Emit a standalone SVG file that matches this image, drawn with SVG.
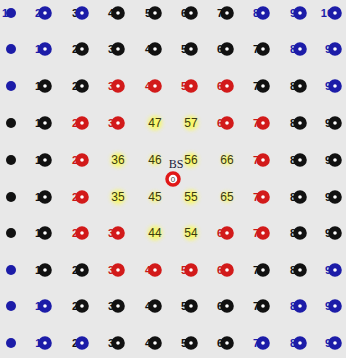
<svg xmlns="http://www.w3.org/2000/svg" width="346" height="358" viewBox="0 0 346 358">
<defs>
<style>
text{font-family:"Liberation Sans",Arial,sans-serif;font-size:11px;text-anchor:middle;font-weight:bold}
.tb{fill:#1c1ca8}.tk{fill:#111}.tr{fill:#c81818}
.rb{fill:#fff;stroke:#1c1ca8;stroke-width:5}
.rk{fill:#fff;stroke:#111;stroke-width:5}
.rr{fill:#fff;stroke:#d21a1a;stroke-width:5}
.db{fill:#1c1ca8}.dk{fill:#111}
.yh{fill:#ffff30;opacity:.7;filter:url(#bl)}
.yt{fill:#3a3a10;font-size:12px;font-weight:normal}
</style>
<filter id="bl" x="-50%" y="-50%" width="200%" height="200%"><feGaussianBlur stdDeviation="2"/></filter>
</defs>
<rect width="346" height="358" fill="#e8e8e8"/>
<g id="connectors"/>
<!-- row 1 -->
<g id="n10"><text class="tb" x="8" y="17">10</text><circle class="db" cx="11" cy="13" r="5"/></g>
<g id="n20"><text class="tb" x="41" y="17">20</text><circle class="rb" cx="45" cy="13" r="4.3"/></g>
<g id="n30"><text class="tk" x="78" y="17">30</text><circle class="rb" cx="82" cy="13" r="4.3"/></g>
<g id="n40"><text class="tk" x="114" y="17">40</text><circle class="rk" cx="118" cy="13" r="4.3"/></g>
<g id="n50"><text class="tk" x="151" y="17">50</text><circle class="rk" cx="155" cy="13" r="4.3"/></g>
<g id="n60"><text class="tk" x="187" y="17">60</text><circle class="rk" cx="191" cy="13" r="4.3"/></g>
<g id="n70"><text class="tk" x="223" y="17">70</text><circle class="rk" cx="227" cy="13" r="4.3"/></g>
<g id="n80"><text class="tb" x="259" y="17">80</text><circle class="rb" cx="263" cy="13" r="4.3"/></g>
<g id="n90"><text class="tb" x="296" y="17">90</text><circle class="rb" cx="300" cy="13" r="4.3"/></g>
<g id="n100"><text class="tb" x="330" y="17">100</text><circle class="rb" cx="335" cy="13" r="4.3"/></g>
<!-- row 2 -->
<g id="n9"><text class="tb" x="11" y="53">9</text><circle class="db" cx="11" cy="49" r="5"/></g>
<g id="n19"><text class="tb" x="41" y="53">19</text><circle class="rb" cx="45" cy="49" r="4.3"/></g>
<g id="n29"><text class="tk" x="78" y="53">29</text><circle class="rk" cx="82" cy="49" r="4.3"/></g>
<g id="n39"><text class="tk" x="114" y="53">39</text><circle class="rk" cx="118" cy="49" r="4.3"/></g>
<g id="n49"><text class="tk" x="151" y="53">49</text><circle class="rk" cx="155" cy="49" r="4.3"/></g>
<g id="n59"><text class="tk" x="187" y="53">59</text><circle class="rk" cx="191" cy="49" r="4.3"/></g>
<g id="n69"><text class="tk" x="223" y="53">69</text><circle class="rk" cx="227" cy="49" r="4.3"/></g>
<g id="n79"><text class="tk" x="259" y="53">79</text><circle class="rk" cx="263" cy="49" r="4.3"/></g>
<g id="n89"><text class="tb" x="296" y="53">89</text><circle class="rb" cx="300" cy="49" r="4.3"/></g>
<g id="n99"><text class="tb" x="331" y="53">99</text><circle class="rb" cx="335" cy="49" r="4.3"/></g>
<!-- row 3 -->
<g id="n8"><text class="tb" x="11" y="90">8</text><circle class="db" cx="11" cy="86" r="5"/></g>
<g id="n18"><text class="tk" x="41" y="90">18</text><circle class="rk" cx="45" cy="86" r="4.3"/></g>
<g id="n28"><text class="tk" x="78" y="90">28</text><circle class="rk" cx="82" cy="86" r="4.3"/></g>
<g id="n38"><text class="tr" x="114" y="90">38</text><circle class="rr" cx="118" cy="86" r="4.3"/></g>
<g id="n48"><text class="tr" x="151" y="90">48</text><circle class="rr" cx="155" cy="86" r="4.3"/></g>
<g id="n58"><text class="tr" x="187" y="90">58</text><circle class="rr" cx="191" cy="86" r="4.3"/></g>
<g id="n68"><text class="tr" x="223" y="90">68</text><circle class="rr" cx="227" cy="86" r="4.3"/></g>
<g id="n78"><text class="tk" x="259" y="90">78</text><circle class="rk" cx="263" cy="86" r="4.3"/></g>
<g id="n88"><text class="tk" x="296" y="90">88</text><circle class="rk" cx="300" cy="86" r="4.3"/></g>
<g id="n98"><text class="tb" x="331" y="90">98</text><circle class="rb" cx="335" cy="86" r="4.3"/></g>
<!-- row 4 -->
<g id="n7"><text class="tk" x="11" y="127">7</text><circle class="dk" cx="11" cy="123" r="5"/></g>
<g id="n17"><text class="tk" x="41" y="127">17</text><circle class="rk" cx="45" cy="123" r="4.3"/></g>
<g id="n27"><text class="tr" x="78" y="127">27</text><circle class="rr" cx="82" cy="123" r="4.3"/></g>
<g id="n37"><text class="tr" x="114" y="127">37</text><circle class="rr" cx="118" cy="123" r="4.3"/></g>
<g id="n47"><circle class="yh" cx="155" cy="123" r="7"/><text class="yt" x="155" y="127">47</text></g>
<g id="n57"><circle class="yh" cx="191" cy="123" r="7"/><text class="yt" x="191" y="127">57</text></g>
<g id="n67"><text class="tr" x="223" y="127">67</text><circle class="rr" cx="227" cy="123" r="4.3"/></g>
<g id="n77"><text class="tr" x="259" y="127">77</text><circle class="rr" cx="263" cy="123" r="4.3"/></g>
<g id="n87"><text class="tk" x="296" y="127">87</text><circle class="rk" cx="300" cy="123" r="4.3"/></g>
<g id="n97"><text class="tk" x="331" y="127">97</text><circle class="rk" cx="335" cy="123" r="4.3"/></g>
<!-- row 5 -->
<g id="n6"><text class="tk" x="11" y="164">6</text><circle class="dk" cx="11" cy="160" r="5"/></g>
<g id="n16"><text class="tk" x="41" y="164">16</text><circle class="rk" cx="45" cy="160" r="4.3"/></g>
<g id="n26"><text class="tr" x="78" y="164">26</text><circle class="rr" cx="82" cy="160" r="4.3"/></g>
<g id="n36"><circle class="yh" cx="118" cy="160" r="7"/><text class="yt" x="118" y="164">36</text></g>
<g id="n46"><circle class="yh" cx="155" cy="160" r="5" opacity=".4"/><text class="yt" x="155" y="164">46</text></g>
<g id="n56"><circle class="yh" cx="191" cy="160" r="7"/><text class="yt" x="191" y="164">56</text></g>
<g id="n66"><circle class="yh" cx="227" cy="160" r="5" opacity=".4"/><text class="yt" x="227" y="164">66</text></g>
<g id="n76"><text class="tr" x="259" y="164">76</text><circle class="rr" cx="263" cy="160" r="4.3"/></g>
<g id="n86"><text class="tk" x="296" y="164">86</text><circle class="rk" cx="300" cy="160" r="4.3"/></g>
<g id="n96"><text class="tk" x="331" y="164">96</text><circle class="rk" cx="335" cy="160" r="4.3"/></g>
<!-- row 6 -->
<g id="n5"><text class="tk" x="11" y="201">5</text><circle class="dk" cx="11" cy="197" r="5"/></g>
<g id="n15"><text class="tk" x="41" y="201">15</text><circle class="rk" cx="45" cy="197" r="4.3"/></g>
<g id="n25"><text class="tr" x="78" y="201">25</text><circle class="rr" cx="82" cy="197" r="4.3"/></g>
<g id="n35"><circle class="yh" cx="118" cy="197" r="7"/><text class="yt" x="118" y="201">35</text></g>
<g id="n45"><circle class="yh" cx="155" cy="197" r="5" opacity=".4"/><text class="yt" x="155" y="201">45</text></g>
<g id="n55"><circle class="yh" cx="191" cy="197" r="7"/><text class="yt" x="191" y="201">55</text></g>
<g id="n65"><circle class="yh" cx="227" cy="197" r="5" opacity=".4"/><text class="yt" x="227" y="201">65</text></g>
<g id="n75"><text class="tr" x="259" y="201">75</text><circle class="rr" cx="263" cy="197" r="4.3"/></g>
<g id="n85"><text class="tk" x="296" y="201">85</text><circle class="rk" cx="300" cy="197" r="4.3"/></g>
<g id="n95"><text class="tk" x="331" y="201">95</text><circle class="rk" cx="335" cy="197" r="4.3"/></g>
<!-- row 7 -->
<g id="n4"><text class="tk" x="11" y="237">4</text><circle class="dk" cx="11" cy="233" r="5"/></g>
<g id="n14"><text class="tk" x="41" y="237">14</text><circle class="rk" cx="45" cy="233" r="4.3"/></g>
<g id="n24"><text class="tr" x="78" y="237">24</text><circle class="rr" cx="82" cy="233" r="4.3"/></g>
<g id="n34"><text class="tr" x="114" y="237">34</text><circle class="rr" cx="118" cy="233" r="4.3"/></g>
<g id="n44"><circle class="yh" cx="155" cy="233" r="7"/><text class="yt" x="155" y="237">44</text></g>
<g id="n54"><circle class="yh" cx="191" cy="233" r="7"/><text class="yt" x="191" y="237">54</text></g>
<g id="n64"><text class="tr" x="223" y="237">64</text><circle class="rr" cx="227" cy="233" r="4.3"/></g>
<g id="n74"><text class="tr" x="259" y="237">74</text><circle class="rr" cx="263" cy="233" r="4.3"/></g>
<g id="n84"><text class="tk" x="296" y="237">84</text><circle class="rk" cx="300" cy="233" r="4.3"/></g>
<g id="n94"><text class="tk" x="331" y="237">94</text><circle class="rk" cx="335" cy="233" r="4.3"/></g>
<!-- row 8 -->
<g id="n3"><text class="tb" x="11" y="274">3</text><circle class="db" cx="11" cy="270" r="5"/></g>
<g id="n13"><text class="tk" x="41" y="274">13</text><circle class="rk" cx="45" cy="270" r="4.3"/></g>
<g id="n23"><text class="tk" x="78" y="274">23</text><circle class="rk" cx="82" cy="270" r="4.3"/></g>
<g id="n33"><text class="tr" x="114" y="274">33</text><circle class="rr" cx="118" cy="270" r="4.3"/></g>
<g id="n43"><text class="tr" x="151" y="274">43</text><circle class="rr" cx="155" cy="270" r="4.3"/></g>
<g id="n53"><text class="tr" x="187" y="274">53</text><circle class="rr" cx="191" cy="270" r="4.3"/></g>
<g id="n63"><text class="tr" x="223" y="274">63</text><circle class="rr" cx="227" cy="270" r="4.3"/></g>
<g id="n73"><text class="tk" x="259" y="274">73</text><circle class="rk" cx="263" cy="270" r="4.3"/></g>
<g id="n83"><text class="tk" x="296" y="274">83</text><circle class="rk" cx="300" cy="270" r="4.3"/></g>
<g id="n93"><text class="tb" x="331" y="274">93</text><circle class="rb" cx="335" cy="270" r="4.3"/></g>
<!-- row 9 -->
<g id="n2"><text class="tb" x="11" y="310">2</text><circle class="db" cx="11" cy="306" r="5"/></g>
<g id="n12"><text class="tb" x="41" y="310">12</text><circle class="rb" cx="45" cy="306" r="4.3"/></g>
<g id="n22"><text class="tk" x="78" y="310">22</text><circle class="rk" cx="82" cy="306" r="4.3"/></g>
<g id="n32"><text class="tk" x="114" y="310">32</text><circle class="rk" cx="118" cy="306" r="4.3"/></g>
<g id="n42"><text class="tk" x="151" y="310">42</text><circle class="rk" cx="155" cy="306" r="4.3"/></g>
<g id="n52"><text class="tk" x="187" y="310">52</text><circle class="rk" cx="191" cy="306" r="4.3"/></g>
<g id="n62"><text class="tk" x="223" y="310">62</text><circle class="rk" cx="227" cy="306" r="4.3"/></g>
<g id="n72"><text class="tk" x="259" y="310">72</text><circle class="rk" cx="263" cy="306" r="4.3"/></g>
<g id="n82"><text class="tb" x="296" y="310">82</text><circle class="rb" cx="300" cy="306" r="4.3"/></g>
<g id="n92"><text class="tb" x="331" y="310">92</text><circle class="rb" cx="335" cy="306" r="4.3"/></g>
<!-- row 10 -->
<g id="n1"><text class="tb" x="11" y="347">1</text><circle class="db" cx="11" cy="343" r="5"/></g>
<g id="n11"><text class="tb" x="41" y="347">11</text><circle class="rb" cx="45" cy="343" r="4.3"/></g>
<g id="n21"><text class="tk" x="78" y="347">21</text><circle class="rb" cx="82" cy="343" r="4.3"/></g>
<g id="n31"><text class="tk" x="114" y="347">31</text><circle class="rk" cx="118" cy="343" r="4.3"/></g>
<g id="n41"><text class="tk" x="151" y="347">41</text><circle class="rk" cx="155" cy="343" r="4.3"/></g>
<g id="n51"><text class="tk" x="187" y="347">51</text><circle class="rk" cx="191" cy="343" r="4.3"/></g>
<g id="n61"><text class="tk" x="223" y="347">61</text><circle class="rk" cx="227" cy="343" r="4.3"/></g>
<g id="n71"><text class="tb" x="259" y="347">71</text><circle class="rb" cx="263" cy="343" r="4.3"/></g>
<g id="n81"><text class="tb" x="296" y="347">81</text><circle class="rb" cx="300" cy="343" r="4.3"/></g>
<g id="n91"><text class="tb" x="331" y="347">91</text><circle class="rb" cx="335" cy="343" r="4.3"/></g>
<!-- base station -->
<g id="bs">
<text x="176" y="168" style="font-family:'Liberation Serif',serif;font-size:12px;font-weight:normal;fill:#1a1a3a">BS</text>
<circle cx="173" cy="179" r="6" fill="#fff" stroke="#e01818" stroke-width="3.5"/>
<text x="173" y="182" style="font-size:8px;font-weight:normal;fill:#444">0</text>
</g>
</svg>
